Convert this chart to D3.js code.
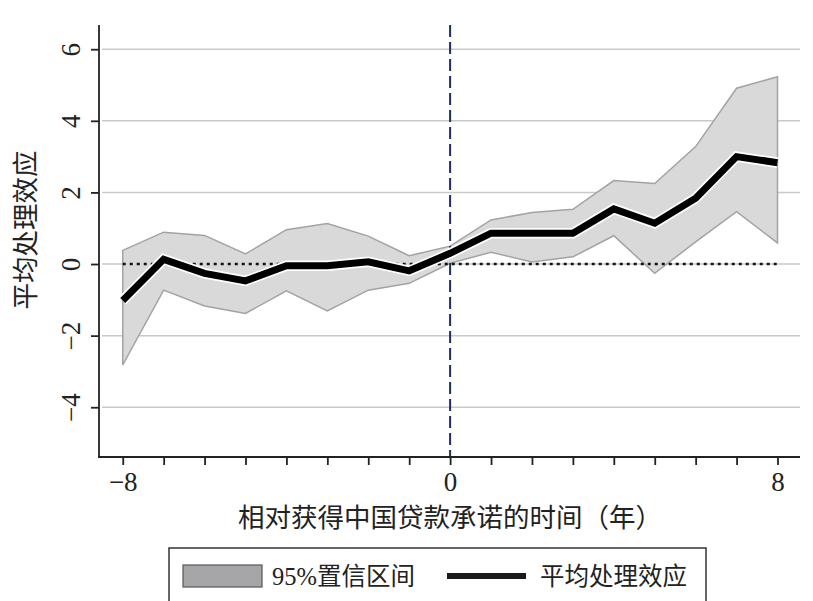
<!DOCTYPE html>
<html>
<head>
<meta charset="utf-8">
<script src="https://cdn.jsdelivr.net/npm/d3@7"></script>
<style>
  body { margin: 0; background: #fff; }
  text { font-family: "Liberation Serif", "Noto Sans CJK SC", serif; fill: #222; }
</style>
</head>
<body>
<svg class="event-chart" width="813" height="601"></svg>
<script>
// relative year to Chinese loan commitment
var years = [-8, -7, -6, -5, -4, -3, -2, -1, 0, 1, 2, 3, 4, 5, 6, 7, 8];
var estimate = [-1.02, 0.13, -0.26, -0.47, -0.05, -0.05, 0.06, -0.19, 0.30, 0.86, 0.86, 0.86, 1.54, 1.14, 1.84, 3.00, 2.83];
var upper = [0.38, 0.89, 0.80, 0.28, 0.96, 1.13, 0.78, 0.23, 0.50, 1.23, 1.44, 1.53, 2.33, 2.25, 3.28, 4.91, 5.23];
var lower = [-2.82, -0.73, -1.17, -1.38, -0.75, -1.31, -0.73, -0.54, 0.02, 0.33, 0.06, 0.20, 0.79, -0.26, 0.62, 1.46, 0.59];
var yTicks = [-4, -2, 0, 2, 4, 6];
var xLabels = [-8, 0, 8];

var xTitle = "相对获得中国贷款承诺的时间（年）";
var yTitle = "平均处理效应";
var legendBand = "95%置信区间";
var legendLine = "平均处理效应";

function drawChart() {
  var left = 99, right = 800, top = 25, bottom = 457;

  var x = d3.scaleLinear().domain([-8.58, 8.55]).range([left, right]);
  var y = d3.scaleLinear().domain([-5.39, 6.676]).range([bottom, top]);

  var data = years.map(function(d, i) {
    return {year: d, est: estimate[i], hi: upper[i], lo: lower[i]};
  });

  var svg = d3.select(".event-chart");
  var minus = function(v) { return v < 0 ? "\u2212" + Math.abs(v) : "" + v; };

  // grid lines
  svg.append("g")
    .selectAll("line")
    .data(yTicks)
    .enter().append("line")
    .attr("x1", left + 3).attr("x2", right)
    .attr("y1", function(d) { return y(d); })
    .attr("y2", function(d) { return y(d); })
    .attr("stroke", "#c9c9c9")
    .attr("stroke-width", 1.5);

  // confidence band
  var band = d3.area()
    .x(function(d) { return x(d.year); })
    .y0(function(d) { return y(d.lo); })
    .y1(function(d) { return y(d.hi); });

  svg.append("path")
    .datum(data)
    .attr("d", band)
    .attr("fill", "#d9d9d9")
    .attr("stroke", "#a3a3a3")
    .attr("stroke-width", 1.5);

  // zero reference
  svg.append("line")
    .attr("x1", x(-8)).attr("x2", x(8))
    .attr("y1", y(0)).attr("y2", y(0))
    .attr("stroke", "#111")
    .attr("stroke-width", 2.3)
    .attr("stroke-dasharray", "3,4");

  // event time marker
  svg.append("line")
    .attr("x1", x(0)).attr("x2", x(0))
    .attr("y1", top).attr("y2", bottom)
    .attr("stroke", "#1c2f5c")
    .attr("stroke-width", 2)
    .attr("stroke-dasharray", "12,5");

  var line = d3.line()
    .x(function(d) { return x(d.year); })
    .y(function(d) { return y(d.est); });

  svg.append("path")
    .datum(data)
    .attr("d", line)
    .attr("fill", "none")
    .attr("stroke", "#fff")
    .attr("stroke-width", 10.5);

  svg.append("path")
    .datum(data)
    .attr("d", line)
    .attr("fill", "none")
    .attr("stroke", "#000")
    .attr("stroke-width", 7);

  // x axis
  var xAxis = svg.append("g")
    .attr("transform", "translate(0," + bottom + ")")
    .attr("font-size", 27)
    .call(d3.axisBottom(x)
      .tickValues(years)
      .tickSize(8)
      .tickSizeOuter(0)
      .tickFormat(function(d) { return xLabels.indexOf(d) >= 0 ? minus(d) : ""; }));
  xAxis.select(".domain").attr("stroke", "#222").attr("stroke-width", 1.8).attr("d", "M" + (left - 1) + ",0H" + right);
  xAxis.selectAll(".tick line").attr("stroke", "#222").attr("stroke-width", 1.8);
  xAxis.selectAll(".tick text")
    .attr("y", 34).attr("dy", null)
    .style("font-size", "27px")
    .attr("fill", "#222");

  // y axis
  var yAxis = svg.append("g")
    .attr("transform", "translate(" + left + ",0)")
    .attr("font-size", 27)
    .call(d3.axisLeft(y)
      .tickValues(yTicks)
      .tickSize(8)
      .tickSizeOuter(0)
      .tickFormat(minus));
  yAxis.select(".domain").attr("stroke", "#222").attr("stroke-width", 1.8).attr("d", "M0," + top + "V" + (bottom + 1));
  yAxis.selectAll(".tick line").attr("stroke", "#222").attr("stroke-width", 1.8);
  yAxis.selectAll(".tick text")
    .attr("x", null).attr("dy", null)
    .attr("transform", "translate(-19,0) rotate(-90)")
    .attr("text-anchor", "middle")
    .style("font-size", "27px")
    .attr("fill", "#222");

  // axis titles
  svg.append("text")
    .attr("x", x(0))
    .attr("y", 527)
    .attr("text-anchor", "middle")
    .style("font-size", "26.5px")
    .text(xTitle);

  svg.append("text")
    .attr("transform", "translate(35,230) rotate(-90)")
    .attr("text-anchor", "middle")
    .style("font-size", "26.5px")
    .text(yTitle);

  // legend
  var legend = svg.append("g");
  legend.append("rect")
    .attr("x", 169).attr("y", 548)
    .attr("width", 537).attr("height", 70)
    .attr("fill", "#fff")
    .attr("stroke", "#333")
    .attr("stroke-width", 1.5);
  legend.append("rect")
    .attr("x", 183).attr("y", 565)
    .attr("width", 79).attr("height", 22)
    .attr("fill", "#a6a6a8")
    .attr("stroke", "#555")
    .attr("stroke-width", 1.2);
  legend.append("text")
    .attr("x", 272).attr("y", 585)
    .style("font-size", "24.5px")
    .text(legendBand);
  legend.append("line")
    .attr("x1", 447).attr("x2", 526)
    .attr("y1", 576).attr("y2", 576)
    .attr("stroke", "#1a1a1a")
    .attr("stroke-width", 6);
  legend.append("text")
    .attr("x", 540).attr("y", 585)
    .style("font-size", "24.5px")
    .text(legendLine);
}

drawChart();
</script>
</body>
</html>
